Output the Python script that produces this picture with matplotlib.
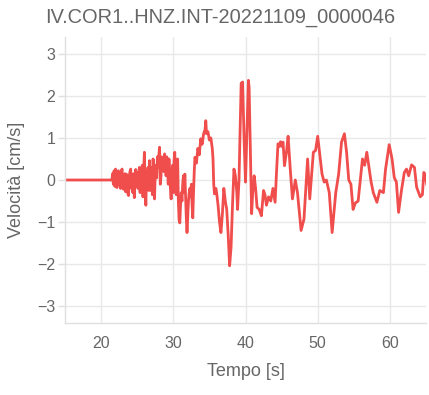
import matplotlib
matplotlib.use("Agg")
import matplotlib.pyplot as plt

plt.rcParams['font.family'] = ['Liberation Sans', 'DejaVu Sans']

titolo = "IV.COR1..HNZ.INT-20221109_0000046"
x_ticks = [20, 30, 40, 50, 60]
y_ticks = [-3, -2, -1, 0, 1, 2, 3]

# tempo [s] e velocita [cm/s]
tempo = [15.0, 17.0, 19.0, 21.0, 21.5,
         21.6, 21.7, 21.8, 21.9, 22.0, 22.1, 22.2, 22.3, 22.4, 22.5,
         22.6, 22.7, 22.8, 22.9, 23.0, 23.1, 23.2, 23.3, 23.4, 23.5,
         23.6, 23.7, 23.8, 23.9, 24.0, 24.1, 24.2, 24.3, 24.4, 24.5,
         24.6, 24.7, 24.8, 24.9, 25.0, 25.1, 25.2, 25.3, 25.4, 25.5,
         25.6, 25.7, 25.8, 25.9, 26.0, 26.1, 26.2, 26.3, 26.4, 26.5,
         26.6, 26.7, 26.8, 26.9, 27.0, 27.1, 27.2, 27.3, 27.4, 27.5,
         27.6, 27.7, 27.8, 27.9, 28.0, 28.1, 28.2, 28.3, 28.4, 28.5,
         28.6, 28.7, 28.8, 28.9, 29.0, 29.1, 29.2, 29.3, 29.4, 29.5,
         29.6, 29.7, 29.8, 29.9, 30.0, 30.1, 30.2, 30.3, 30.4, 30.5,
         30.6, 30.7, 30.8, 30.9, 31.0, 31.1, 31.2, 31.3, 31.4, 31.5,
         31.6, 31.7, 31.8, 31.9, 32.0, 32.1, 32.2, 32.3, 32.4, 32.5,
         32.6, 32.7, 32.8, 32.9, 33.0, 33.2, 33.4, 33.6, 33.8, 34.0,
         34.2, 34.4, 34.5, 34.6, 34.8, 35.0, 35.2, 35.4, 35.5, 35.6,
         35.7, 35.9, 36.0, 36.2, 36.4, 36.6, 36.8, 37.0, 37.2, 37.4,
         37.6, 37.8, 38.0, 38.2, 38.4, 38.6, 38.8, 38.9, 39.1, 39.3,
         39.4, 39.6, 39.8, 40.0, 40.2, 40.4, 40.5, 40.7, 40.85, 41.0,
         41.2, 41.4, 41.6, 41.9, 42.2, 42.5, 42.7, 42.9, 43.2, 43.5,
         43.8, 44.1, 44.3, 44.5, 44.7, 44.85, 45.0, 45.2, 45.4, 45.7,
         45.9, 46.2, 46.5, 46.9, 47.2, 47.7, 48.1, 48.6, 48.9, 49.4,
         49.7, 50.0, 50.3, 50.6, 50.9, 51.2, 51.6, 52.0, 52.5, 52.9,
         53.3, 53.7, 54.0, 54.3, 54.6, 54.9, 55.2, 55.6, 56.2, 56.5,
         56.8, 57.1, 57.4, 57.7, 58.2, 58.6, 59.1, 59.4, 59.9, 60.3,
         60.6, 60.9, 61.2, 61.6, 62.0, 62.3, 62.6, 63.0, 63.4, 63.7,
         64.2, 64.5, 64.7, 64.9, 65.1]
velocita = [0.0, 0.0, 0.0, 0.0, 0.0,
            0.15, -0.1, 0.22, -0.15, 0.26, -0.08, -0.18, 0.18, 0.22, -0.12,
            0.05, -0.2, 0.2, 0.26, -0.1, -0.22, 0.1, 0.15, -0.28, 0.14,
            -0.05, -0.32, -0.37, 0.1, 0.2, 0.26, -0.2, 0.05, -0.3, 0.15,
            -0.42, 0.1, 0.25, -0.15, 0.18, -0.2, 0.05, 0.3, -0.3, 0.2,
            -0.1, 0.35, -0.4, 0.25, 0.66, -0.3, -0.6, 0.2, 0.05, 0.3,
            -0.25, 0.46, 0.1, -0.25, 0.3, -0.35, 0.5, 0.1, -0.45, 0.2,
            0.35, 0.05, 0.55, 0.3, 0.6, 0.78, -0.1, 0.1, 0.55, 0.3,
            0.5, 0.2, 0.62, 0.4, 0.1, 0.55, 0.3, -0.1, 0.5, 0.15,
            -0.2, -0.45, 0.1, 0.35, -0.3, 0.45, 0.66, 0.2, -0.35, 0.3,
            0.5, -0.5, -0.95, -1.02, -0.6, -0.3, -0.5, -0.1, 0.1, -0.3,
            0.14, -0.4, -0.9, -1.25, -0.9, -0.5, -0.3, -0.2, -0.4, -0.1,
            -0.6, -0.9, -0.3, 0.2, 0.54, 0.4, 0.75, 0.6, 0.98, 0.85,
            1.1, 1.2, 1.41, 1.1, 1.15, 0.95, 1.0, 0.75, 0.5, -0.1,
            -0.33, -0.2, -0.3, -0.6, -1.0, -1.25, -0.8, -0.2, -0.5, -0.7,
            -1.3, -2.04, -1.6, -0.6, 0.26, 0.1, -0.3, -0.7, 0.0, 1.5,
            2.3, 2.33, 1.0, -0.05, 1.2, 2.37, 2.2, 0.5, -0.8, -0.3,
            0.1, -0.2, -0.65, -0.7, -0.85, -0.25, -0.35, -0.6, -0.4, -0.5,
            -0.2, -0.53, 0.2, 0.86, 0.8, 0.91, 0.8, 0.9, 0.34, 0.7,
            1.04, 0.26, -0.45, 0.0, -0.3, -1.2, -0.93, 0.5, -0.45, 0.66,
            0.7, 1.04, 0.58, 0.14, -0.05, 0.0, -0.3, -1.25, -0.3, 0.14,
            0.9, 1.1, 0.66, 0.0, -0.1, -0.7, -0.55, -0.5, 0.5, 0.35,
            0.66, 0.3, -0.05, -0.3, -0.53, -0.25, -0.3, 0.26, 0.84, 0.5,
            0.06, -0.05, -0.77, -0.25, 0.18, 0.26, 0.1, 0.36, 0.3, -0.17,
            -0.4, -0.35, 0.18, 0.12, -0.1]

W, H = 429, 395
fig = plt.figure(figsize=(W / 100, H / 100), dpi=100)
ax = fig.add_axes([65 / W, 1 - 323 / H, (426 - 65) / W, (323 - 37) / H])

ax.plot(tempo, velocita, color="#f04d4d", lw=2.0, solid_joinstyle="round")

ax.set_xlim(15, 65)
ax.set_ylim(-3.4, 3.4)
ax.set_xticks(x_ticks)
ax.set_yticks(y_ticks)
ax.grid(True, color="#e8e8e8", lw=1)
ax.set_axisbelow(True)
for s in ["top", "right"]:
    ax.spines[s].set_visible(False)
for s in ["left", "bottom"]:
    ax.spines[s].set_color("#e0e0e0")
    ax.spines[s].set_linewidth(1)

ax.tick_params(axis="x", length=0, pad=9, labelsize=11.5, labelcolor="#666666")
ax.tick_params(axis="y", length=5, width=1, color="#e0e0e0", pad=2,
               labelsize=11.5, labelcolor="#666666")

ax.set_xlabel("Tempo [s]", fontsize=13, color="#666666", labelpad=9)
ax.set_ylabel("Velocità [cm/s]", fontsize=13, color="#666666", labelpad=9)

fig.text(220 / W, 1 - 22.7 / H, titolo, fontsize=14.4, color="#666666",
         ha="center", va="baseline")

fig.savefig("out.png", dpi=100)
